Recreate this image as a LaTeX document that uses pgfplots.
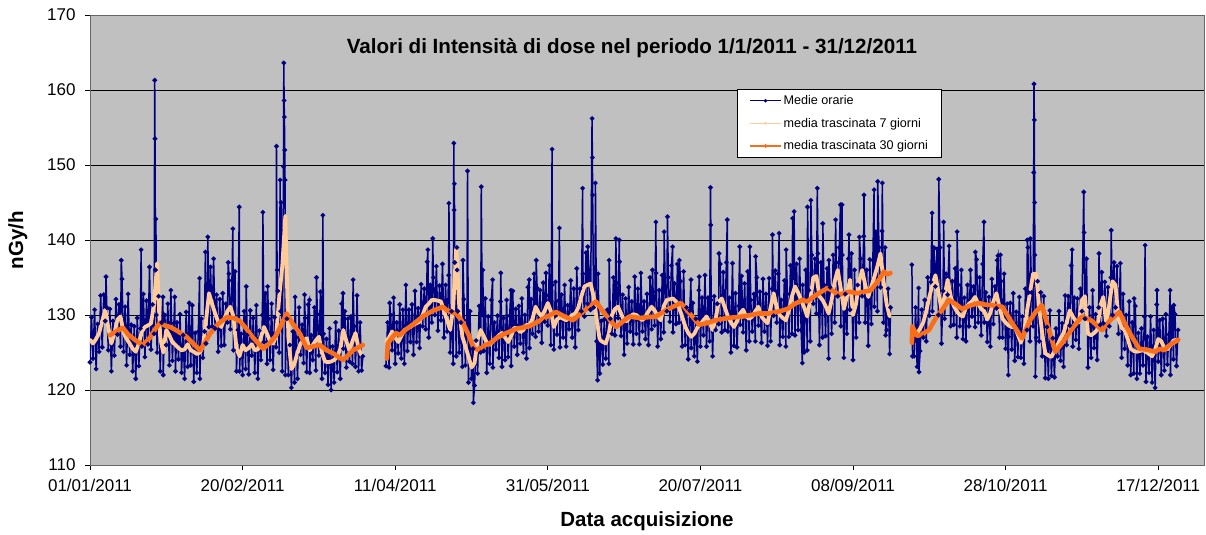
\documentclass[border=0pt]{standalone}
\usepackage{fontspec}
\setmainfont{Liberation Sans}
\usepackage{pgfplots}
\pgfplotsset{compat=1.18}
\definecolor{navy}{RGB}{0,0,128}
\definecolor{peach}{RGB}{255,204,153}
\definecolor{orng}{RGB}{250,110,25}
\definecolor{bgray}{RGB}{192,192,192}
\begin{document}
\begin{tikzpicture}
\begin{axis}[name=ax, scale only axis, width=1114pt, height=450pt,
 xmin=0, xmax=365, ymin=110, ymax=170,
 axis background/.style={fill=bgray},
 xtick={0,50,...,350},
 xticklabels={01/01/2011,20/02/2011,11/04/2011,31/05/2011,20/07/2011,08/09/2011,28/10/2011,17/12/2011},
 ytick={110,120,...,170},
 ymajorgrids, grid style={black, line width=0.8pt},
 tick align=outside, xtick pos=bottom, ytick pos=left, major tick length=5pt,
 tick style={black, line width=0.8pt},
 axis line style={black!60, line width=0.8pt},
 ticklabel style={font=\fontsize{17}{20}\selectfont},
 /pgf/number format/assume math mode=true,
 yticklabel style={xshift=-6pt},
 xticklabel style={yshift=-6pt},
 title={Valori di Intensità di dose nel periodo 1/1/2011 - 31/12/2011},
 title style={at={(axis description cs:0.4865,0.9)}, anchor=base, font=\bfseries\fontsize{20.6}{24}\selectfont},
 xlabel={Data acquisizione},
 xlabel style={at={(axis description cs:0.5,-0.1356)}, anchor=base, font=\bfseries\fontsize{20.5}{24}\selectfont},
 ylabel={nGy/h},
 ylabel style={at={(axis description cs:-0.0601,0.5)}, anchor=base, font=\bfseries\fontsize{20.5}{24}\selectfont},
 legend image code/.code={\draw[mark repeat=2,mark phase=2,#1] plot coordinates {(0pt,0pt)(15.5pt,0pt)(31pt,0pt)};},
 legend style={at={(0.5808,0.8356)}, anchor=north west, draw=black, line width=0.8pt, fill=white,
   font=\fontsize{12.6}{15}\selectfont, inner xsep=12pt, inner ysep=4pt, row sep=8pt},
 legend cell align=left,
]
\addlegendimage{navy, line width=0.8pt, mark=*, mark size=1.3pt}
\addlegendentry{Medie orarie}
\addlegendimage{peach, line width=0.8pt, mark=*, mark size=1pt}
\addlegendentry{media trascinata 7 giorni}
\addlegendimage{orng, line width=1.2pt, mark=*, mark size=1.3pt}
\addlegendentry{media trascinata 30 giorni}

% ---------------- hourly values (blue) ----------------
\addplot[forget plot, navy, line width=1.5pt, mark=*, mark size=1.5pt, mark options={solid}] table[row sep=\\] {x y\\
0 123.7\\0.5 129.7\\1 124.2\\1.5 130.7\\2 122.8\\2.5 128.8\\3 125.1\\3.5 132.6\\4 125.7\\4.5 132.7\\5 129.2\\5.25 135.1\\5.5 131\\6 125.3\\6.5 130.8\\7 122.5\\7.5 129.2\\8 124.6\\8.5 132.1\\9 127.4\\9.5 131.4\\10 125.8\\10.25 137.3\\10.5 134.8\\11 125.1\\11.5 131.1\\12 123.3\\12.5 132.8\\13 124.7\\13.5 128.7\\14 122.5\\14.5 128.5\\15 121.5\\15.5 129.6\\16 123.2\\16.5 128.2\\16.75 138.7\\17 125.8\\17.5 132.8\\18 124.4\\18.5 131.9\\19 126.1\\19.5 136.4\\20 125.4\\20.5 131.4\\21 127.5\\21.2 161.3\\21.3 153.5\\21.45 136\\21.6 142.8\\21.75 130\\22 125\\22.5 132.5\\23 122.5\\23.5 129\\23.9 132.4\\24 122\\24.5 130\\25 126\\25.5 131.5\\26 123.3\\26.5 133.3\\27 123.9\\27.5 128.9\\27.75 132.4\\28 122.5\\28.5 129\\29 124.1\\29.5 130.1\\30 122.3\\30.5 127.3\\31 121.5\\31.5 130.4\\32 123.1\\32.5 131.6\\33 123.3\\33.5 131.3\\34 121.1\\34.5 127.6\\35 122.3\\35.5 127.8\\35.9 134.9\\36 121.5\\36.5 129.5\\37 124.3\\37.5 127.8\\37.8 138.4\\38 126.2\\38.5 134.2\\38.6 140.4\\39 128.4\\39.5 136.4\\40 128.5\\40.5 137.5\\41 128.2\\41.5 132.7\\42 125.1\\42.5 132.1\\43 125.9\\43.5 132.9\\44 126\\44.5 131.5\\45 129\\45.3 137\\45.5 135.5\\46 128.1\\46.5 134.6\\46.8 141.5\\47 125.3\\47.5 135.8\\48 122.5\\48.5 128\\48.9 144.4\\49 122.5\\49.5 127.5\\50 122\\50.5 130.5\\51 122.8\\51.2 133.8\\51.5 127.3\\52 122.1\\52.5 130.6\\53 124.6\\53.5 129.6\\54 122.3\\54.5 131.3\\55 121.5\\55.5 127.9\\56 124\\56.5 130\\56.65 143.7\\57 126.4\\57.5 132.9\\58 123.5\\58.2 133.8\\58.5 129.5\\59 124\\59.5 131.5\\60 122.7\\60.5 129.7\\61 125.7\\61.1 152.5\\61.3 136\\61.5 133.2\\62 125\\62.3 148\\62.5 130.5\\62.6 145\\63 122.5\\63.4 149.8\\63.5 163.6\\63.6 158.6\\63.7 156.4\\63.8 152\\63.9 148\\64 122\\64.5 129.5\\65 122\\65.5 126\\66 120.3\\66.5 127.8\\67 121\\67.2 132.4\\67.5 127\\68 121.5\\68.5 131\\69 124.7\\69.5 128.7\\70 123.6\\70.3 132.7\\70.5 129.6\\71 122.4\\71.5 131.4\\71.9 132\\72 122.3\\72.5 127.3\\73 124\\73.5 131\\74 122.6\\74.2 135\\74.5 130.1\\75 124.6\\75.5 133.1\\76 121.5\\76.3 143.3\\76.5 127.5\\77 122.3\\77.5 126.8\\78 120.7\\78.5 128.2\\79 120\\79.5 125.8\\80 121\\80.5 129\\81 122.4\\81.5 127.9\\82 121.5\\82.5 131.5\\82.9 132.9\\83 125.5\\83.5 130.5\\84 123\\84.5 129.5\\85 123.8\\85.5 129.8\\86 123.5\\86.2 134.7\\86.5 128.5\\87 123.1\\87.5 132.6\\88 122.5\\88.5 129\\89 122.6\\89.4 124.5\\
};
\addplot[forget plot, navy, line width=1.5pt, mark=*, mark size=1.5pt, mark options={solid}] table[row sep=\\] {x y\\
97 123.2\\97.5 129\\98 123\\98.2 131.6\\98.5 130\\99 125.3\\99.5 132.3\\100 123.5\\100.5 129\\101 124.9\\101.5 131.4\\102 124.2\\102.5 130.7\\103 123.5\\103.5 134\\104 125.2\\104.5 130.7\\105 126.4\\105.5 131.4\\106 124.7\\106.5 133.2\\107 126.4\\107.5 130.9\\108 125.6\\108.5 134.1\\109 128.5\\109.5 133.5\\110 128.1\\110.5 137.1\\110.7 138.7\\111 127\\111.5 134\\112 129\\112.3 140.2\\112.5 135\\113 130\\113.5 136.5\\114 127.9\\114.5 133.9\\115 129.3\\115.5 136.8\\116 127\\116.5 134\\117 127.8\\117.5 135.3\\117.6 144.9\\118 125\\118.5 130.5\\119 123.5\\119.2 152.9\\119.3 144\\119.4 147.5\\119.5 137\\120 124.5\\120.2 139\\120.3 136\\120.5 130.5\\121 125\\121.5 129\\122 123.1\\122.2 137.3\\122.5 132.1\\123 123.3\\123.5 129.3\\123.7 149.2\\124 121\\124.5 130.5\\125 121.5\\125.5 125.5\\125.6 118.3\\126 120.6\\126.5 126.6\\127 122.2\\127.5 131.2\\128 125\\128.2 147.1\\128.5 130\\128.7 136\\129 125.2\\129.5 132.2\\130 122.3\\130.5 129.8\\131 123.5\\131.5 132\\131.9 134.7\\132 123\\132.5 129\\133 125.4\\133.5 129.9\\134 124.3\\134.5 131.8\\134.6 135.6\\135 123.1\\135.5 129.6\\136 124\\136.5 132\\137 124.4\\137.5 129.9\\137.9 133.3\\138 123.2\\138.5 133.2\\139 125.8\\139.5 130.8\\140 124.7\\140.5 131.2\\141 126.2\\141.5 132.2\\142 125\\142.5 130\\143 124.2\\143.5 133.7\\143.9 134.7\\144 125.6\\144.5 132.1\\145 127.5\\145.5 135.5\\146 127.1\\146.2 137.3\\146.5 133.6\\147 127.8\\147.5 133.3\\148 126.3\\148.5 134.3\\149 129.1\\149.4 135.6\\149.5 132.6\\150 128.6\\150.5 136.6\\151 126\\151.4 152.1\\151.5 134\\152 125.4\\152.5 134.4\\153 127.4\\153.5 131.9\\153.8 141.6\\154 125.7\\154.5 132.7\\155 127\\155.5 134\\156 125.8\\156.5 131.3\\157 128.1\\157.5 134.6\\158 127\\158.5 133.5\\159 125.7\\159.5 136.2\\160 128\\160.5 133.5\\161 130.5\\161.4 146.9\\161.5 135.5\\162 129.8\\162.5 138.3\\163 131.5\\163.1 139.1\\163.5 136\\164 130.7\\164.5 156.2\\164.6 151\\164.7 146\\165 131\\165.5 136\\165.6 147.6\\166 126.5\\166.3 121.3\\166.5 135.5\\167 122.2\\167.5 129.2\\168 123.4\\168.5 129.4\\169 124.2\\169.5 130.7\\170 123.5\\170.1 137.3\\170.5 129.5\\171 127.5\\171.5 135\\172 127.3\\172.3 140.2\\172.5 134.3\\173 129.6\\173.4 140\\173.5 137.1\\174 127.2\\174.5 132.7\\175 124.7\\175.5 132.2\\176 126.2\\176.5 133.7\\177 127.8\\177.5 131.8\\178 126.1\\178.5 135.1\\179 127.5\\179.5 133.5\\180 126.1\\180.5 135.6\\181 127.8\\181.5 131.8\\182 126.8\\182.5 132.8\\183 126\\183.5 135\\184 128.1\\184.3 136\\184.5 133.1\\185 128.6\\185.4 142.4\\185.5 135.6\\186 125.8\\186.5 133.3\\187 126.8\\187.5 135.3\\188 127.7\\188.1 141.1\\188.5 133.7\\189 130.5\\189.2 143.1\\189.5 135\\190 129.1\\190.5 136.6\\190.9 139.1\\191 127.7\\191.5 134.2\\192 128.8\\192.5 136.8\\193 129\\193.1 137.3\\193.5 134.5\\194 125.8\\194.5 135.8\\195 126\\195.5 131\\196 124.1\\196.5 130.6\\196.9 134.7\\197 125.6\\197.5 131.6\\198 124.5\\198.5 129.5\\199 123.8\\199.5 133.3\\199.6 135.1\\200 125.8\\200.5 132.3\\201 127.3\\201.5 135.3\\202 125.8\\202.5 132.3\\203 126.5\\203.3 147\\203.4 142\\203.5 132\\204 124.5\\204.5 132.5\\205 128\\205.5 131.5\\206 128.8\\206.1 138.2\\206.5 136.8\\207 127.7\\207.5 135.7\\208 128\\208.5 137\\208.8 142.7\\209 127.8\\209.5 132.3\\210 125\\210.5 136.9\\211 125.9\\211.5 132.9\\212 125.7\\212.5 131.2\\212.9 139.1\\213 128.7\\213.5 135.2\\214 127.7\\214.5 134.2\\215 125.3\\215.5 135.8\\216 126.5\\216.2 139.1\\216.5 132\\217 127.8\\217.5 132.8\\218 126.5\\218.1 137.8\\218.5 135\\219 128.6\\219.5 133.1\\220 126.3\\220.5 134.8\\221 127.8\\221.5 132.8\\222 125.9\\222.5 134.9\\223 126.5\\223.5 133.5\\223.6 140.7\\224 129.9\\224.5 135.9\\225 129\\225.5 135.5\\225.8 140.9\\226 126\\226.5 132\\227 127.1\\227.5 134.6\\228 125.8\\228.1 138.7\\228.5 132.8\\229 127.1\\229.5 136.6\\230 127.5\\230.2 142.9\\230.5 135\\230.7 143.8\\231 127.3\\231.5 136.8\\232 128\\232.5 137.5\\233 128\\233.4 123.6\\233.5 134\\234 125\\234.5 136\\235 125.3\\235.1 144.4\\235.5 133.3\\236 126.5\\236.2 145.3\\236.5 138\\237 131.5\\237.5 137.5\\238 130.2\\238.3 146.9\\238.5 138.2\\239 126\\239.5 137\\240 127\\240.1 142.2\\240.5 134\\241 127.2\\241.5 136.2\\242 124.2\\242.1 137.3\\242.5 133.7\\243 127.5\\243.5 138\\244 129\\244.3 142.7\\244.5 137\\245 132.5\\245.5 139\\245.9 144.7\\246 128.5\\246.4 144.7\\246.5 138\\247 124.3\\247.5 132.8\\248 127.5\\248.5 137.5\\248.7 140.7\\249 130.7\\249.5 138.2\\250 124\\250.5 136\\251 127\\251.5 134\\252 129\\252.1 140.4\\252.5 137.5\\253 132.5\\253.5 140.5\\253.6 146\\254 129\\254.5 136\\255 125.9\\255.5 137.4\\256 128.8\\256.5 137.3\\256.9 146.7\\257 131.1\\257.5 141.1\\258 130.5\\258.1 147.8\\258.5 139\\259 133.7\\259.5 141.2\\259.6 147.6\\260 129\\260.5 139\\260.7 127.3\\261 128\\261.5 133.5\\262 124.8\\262.3 131\\
};
\addplot[forget plot, navy, line width=1.5pt, mark=*, mark size=1.5pt, mark options={solid}] table[row sep=\\] {x y\\
269.3 136.7\\269.5 124.5\\270 124.5\\270.5 131\\271 123.1\\271.5 133.6\\271.6 122.4\\272 125.2\\272.5 130.7\\273 127\\273.5 132\\274 126.5\\274.5 135\\275 129.9\\275.5 134.4\\275.9 143.6\\276 130.5\\276.5 139\\277 133.8\\277.5 138.8\\278 130\\278.1 148.1\\278.5 139\\279 126.2\\279.5 133.2\\279.7 142.4\\280 129.5\\280.5 135.5\\281 132.7\\281.5 139.2\\282 128.5\\282.5 134.5\\283 128.7\\283.5 136.2\\284 127\\284.1 141.1\\284.5 134\\285 128.5\\285.5 136\\286 126.8\\286.5 132.3\\287 126.5\\287.5 134\\288 128.5\\288.5 136\\289 129.8\\289.5 133.8\\290 128.4\\290.1 138.4\\290.5 137.4\\291 129\\291.5 135\\292 127.3\\292.5 136.8\\292.9 142.4\\293 129\\293.5 133\\294 126.4\\294.5 132.4\\295 125.8\\295.5 134.8\\296 128.8\\296.5 133.8\\297 130.9\\297.2 137.3\\297.5 137.9\\298 127\\298.3 138\\298.5 134.5\\299 127\\299.5 135.5\\300 125.5\\300.5 131.5\\300.9 122\\301 127.1\\301.5 131.6\\302 125.4\\302.5 132.9\\303 123.9\\303.5 130.4\\304 124.4\\304.5 132.4\\305 124.3\\305.5 129.8\\306 123.5\\306.5 133.5\\307 128\\307.1 140\\307.3 139\\307.5 133\\308 126.5\\308.1 140.2\\308.5 133\\309 128.5\\309.2 149\\309.3 160.8\\309.4 156\\309.5 145\\309.6 138\\309.75 121.8\\310 127\\310.5 134.5\\311 126.5\\311.5 133\\312 124.5\\312.5 132.5\\313 121.6\\313.5 128.4\\314 121.5\\314.5 130.6\\315 121.9\\315.5 126.9\\316 121.7\\316.5 128.2\\317 124.5\\317.5 130.5\\318 123.9\\318.5 128.9\\319 123.1\\319.5 132.6\\320 126\\320.5 132.5\\321 128.6\\321.5 136.6\\321.8 138.7\\322 125.8\\322.5 132.3\\323 126.7\\323.5 132.2\\324 125.5\\324.5 133.5\\325 130.5\\325.6 146.4\\325.7 141\\326 129.5\\326.5 137.5\\327 123\\327.5 131\\328 124.3\\328.5 133.3\\329 125.6\\329.5 130.1\\330 124\\330.5 131\\330.6 138.2\\331 128.7\\331.5 135.7\\332 128.9\\332.5 134.4\\333 127.2\\333.5 133.7\\334 128.5\\334.5 135\\334.6 141.3\\335 130\\335.5 137\\336 131\\336.5 136.5\\337 127.5\\337.6 136.9\\338 124.3\\338.5 132.8\\339 125.5\\339.5 130\\340 123.3\\340.5 131.8\\341 122\\341.5 129\\342 122.2\\342.1 132.2\\342.5 131.2\\343 121.5\\343.5 127.6\\344 122.2\\344.5 128.2\\345 123.3\\345.5 129.8\\345.7 139.3\\346 121.1\\346.5 127.1\\347 122.3\\347.5 129.8\\348 121\\348.5 128\\349 120.3\\349.5 131.4\\349.6 133.3\\350 123.8\\350.5 129.3\\351 122\\351.5 129.5\\352 122.6\\352.5 130.1\\353 123.4\\353.5 127.4\\353.9 133.3\\354 122\\354.5 131\\355 124.1\\355.1 131.3\\355.5 130.1\\356 123.2\\356.5 128\\
};

% ---------------- 7-day moving average (peach) ----------------
\addplot[forget plot, peach, line width=3.8pt, line join=round, line cap=round] table[row sep=\\] {x y\\
0 126.7\\1 126.2\\2 126.8\\3 127.6\\4 129.2\\5 130.7\\6 128.3\\7 126.2\\8 127.6\\9 129.4\\10 129.8\\11 127.6\\12 126.8\\13 126.2\\14 125.5\\15 125.1\\16 126.2\\17 127.8\\18 128.4\\19 128.6\\20 128.9\\21 131.5\\22 136.9\\23 127\\24 125\\25 128\\26 127.3\\27 126.4\\28 126\\29 125.6\\30 125.3\\31 125.4\\32 126.1\\33 125.3\\34 125.1\\35 124.8\\36 125\\37 125.8\\38 129.2\\39 132.9\\40 131.5\\41 130.2\\42 129.1\\43 128.4\\44 129.5\\45 130.5\\46 131.1\\47 129.8\\48 125.5\\49 124.5\\50 126\\51 125.3\\52 125.6\\53 126.1\\54 125.3\\55 125.4\\56 127\\57 128.4\\58 127.5\\59 126.5\\60 126.2\\61 127.2\\62 132.4\\63 136.5\\64 143.2\\65 127\\66 122.8\\67 123.5\\68 125\\69 126.2\\70 126.6\\71 126.9\\72 125.3\\73 126\\74 126.6\\75 127.1\\76 125\\77 123.8\\78 123.7\\79 123.8\\80 124\\81 124.4\\82 125.5\\83 128\\84 126.5\\85 125.3\\86 126.5\\87 127.6\\88 125.5\\89 124.6\\
};
\addplot[forget plot, peach, line width=3.8pt, line join=round, line cap=round] table[row sep=\\] {x y\\
97 126.5\\98 127\\99 127.8\\100 127\\101 126.4\\102 127.2\\103 128\\104 128.2\\105 128.4\\106 128.7\\107 128.9\\108 129.1\\109 130\\110 131.1\\111 131.5\\112 132\\113 132\\114 131.9\\115 131.8\\116 130.5\\117 129.3\\118 128\\119 131\\120 139\\121 131\\122 127.1\\123 125.8\\124 124.5\\125 123\\126 123.6\\127 126.7\\128 128\\129 127.2\\130 126.3\\131 126\\132 126.5\\133 126.9\\134 127.3\\135 127.6\\136 127\\137 126.4\\138 127.2\\139 128.3\\140 128.2\\141 127.7\\142 128\\143 128.7\\144 128.6\\145 129.5\\146 131.1\\147 130.3\\148 129.8\\149 130.6\\150 131.6\\151 130.5\\152 128.4\\153 129.4\\154 129.7\\155 129.5\\156 129.3\\157 129.6\\158 130\\159 130.2\\160 131\\161 132.5\\162 133.8\\163 134\\164 134.2\\165 132.5\\166 129.5\\167 126.7\\168 126.4\\169 126.2\\170 127.5\\171 130\\172 130.8\\173 131.1\\174 130.2\\175 129.2\\176 129.2\\177 129.8\\178 130.1\\179 130\\180 129.6\\181 129.3\\182 129.8\\183 130.5\\184 131.1\\185 130.6\\186 129.8\\187 129.3\\188 131.2\\189 132\\190 132.1\\191 132.2\\192 131.8\\193 131\\194 129.8\\195 128.5\\196 127.6\\197 127.1\\198 127.5\\199 128.3\\200 128.8\\201 129.3\\202 129.8\\203 129\\204 128\\205 129.5\\206 131.8\\207 132.2\\208 131\\209 129.8\\210 129\\211 128.4\\212 129.2\\213 130.2\\214 130.7\\215 129.8\\216 129.5\\217 129.8\\218 130.5\\219 131.1\\220 129.8\\221 129.3\\222 128.9\\223 131\\224 132.9\\225 131\\226 130\\227 129.6\\228 129.3\\229 130.6\\230 132.5\\231 133.8\\232 133\\233 132\\234 131\\235 129.8\\236 132\\237 135\\238 135.2\\239 132.5\\240 132\\241 131.2\\242 130.2\\243 132\\244 134.5\\245 136\\246 133.5\\247 130.8\\248 132.5\\249 134.7\\250 130\\251 131.5\\252 134.5\\253 136\\254 134\\255 132.4\\256 133.8\\257 135.1\\258 136.5\\259 138.2\\260 134.5\\261 131.5\\262 129.8\\
};
\addplot[forget plot, peach, line width=3.8pt, line join=round, line cap=round] table[row sep=\\] {x y\\
269 127.1\\270 127.5\\271 127.6\\272 128.2\\273 129\\274 130.5\\275 132.4\\276 134\\277 135.3\\278 133\\279 130.7\\280 132.5\\281 134.7\\282 132.5\\283 131.2\\284 130.5\\285 130\\286 129.8\\287 131\\288 131.5\\289 131.8\\290 132.4\\291 131.5\\292 130.8\\293 130.5\\294 129.4\\295 130.3\\296 131.8\\297 132.9\\298 131\\299 129.5\\300 129\\301 128.6\\302 128.4\\303 128.4\\304 127.4\\305 126.3\\306 127.5\\307 130.5\\308 133\\309 135.5\\310 135.5\\311 131\\312 127.5\\313 124.9\\314 124.6\\315 124.4\\316 125.2\\317 126\\318 126.9\\319 127.6\\320 129\\321 130.6\\322 129.8\\323 129.2\\324 129\\325 132\\326 132.5\\327 127.5\\328 127.3\\329 127.6\\330 128\\331 131.2\\332 132.4\\333 128.7\\334 131.5\\335 134.5\\336 134\\337 129.5\\338 128.3\\339 128\\340 126.8\\341 125.5\\342 125.2\\343 125.1\\344 125.2\\345 125.3\\346 125.1\\347 124.8\\348 124.5\\349 125.4\\350 126.8\\351 126.5\\352 125.6\\353 125.4\\354 126\\355 126.6\\356 126.7\\
};

% ---------------- 30-day moving average (orange) ----------------
\addplot[forget plot, orng, line width=4.6pt, line join=round, line cap=round] coordinates {
(6.5,127.3)(8.5,127.8)(10.8,128.3)(12.5,127.4)(15,126.6)(17.3,126)(19.5,126.9)(21.5,128.2)(23,129)(24.5,128.6)(26.3,128.4)(28.5,127.9)(31.6,127.1)(34,126.1)(36,125.3)(37.5,126.2)(39.3,127.5)(42,128.8)(44.8,129.7)(47,129.6)(49.1,129.2)(51,128.3)(53.4,127)(56.7,125.5)(59,126.3)(61,127.3)(62.8,128.8)(64.4,130.2)(66.5,128.8)(68.8,127.5)(71,125.6)(73,125.8)(75.3,126)(77.5,125.3)(79.6,124.9)(82.9,124)(84.5,124.6)(86.2,125.3)(88,125.7)(89.4,126)
};
\addplot[forget plot, orng, line width=4.6pt, line join=round, line cap=round] coordinates {
(97.3,124.2)(97.6,126.2)(99,127)(100.3,127.6)(101.5,127.3)(103,127.9)(106,128.8)(109,129.8)(112,130.5)(115.6,131.1)(117,130.6)(118.5,130.4)(120,130.2)(122,129.1)(124,127.4)(125.7,125.6)(127.6,125.3)(129,125.9)(130.9,126.2)(133.5,127)(136.4,127.6)(140,128.2)(144,128.5)(148,129.4)(152.7,130.4)(155.5,129.8)(158.2,129.3)(162,130.6)(165.8,131.8)(168,130.5)(170,129.5)(172.4,128.4)(174.5,129.1)(176.7,129.8)(180,129.6)(185.4,129.8)(189,130.7)(193.6,131.6)(196.5,130.2)(199.6,128.7)(202,128.9)(205,129.3)(209,129.6)(213.8,129.8)(219.2,130.2)(222.5,130.2)(226,130.5)(228.5,130.8)(231,131.5)(233.4,132)(235,131.8)(238,132.7)(241.6,133.6)(243.5,133.2)(245.4,132.7)(248.7,133.1)(251.5,132.9)(255.8,133.3)(258.5,134.7)(260.2,135.8)(261.2,135.4)(262.3,135.6)
};
\addplot[forget plot, orng, line width=4.6pt, line join=round, line cap=round] coordinates {
(269.3,126.3)(269.4,128.5)(271,127.2)(272.5,127.4)(274.9,128)(277,129.5)(279.2,130.7)(281.4,132)(283.5,131.5)(285.8,130.8)(288,131.2)(291.2,131.6)(293,131.4)(295.5,131.3)(298.9,131.1)(302,129)(305.4,126.9)(308,129.3)(310,130.5)(311.9,131.3)(313.5,129)(316.3,125.1)(319,126.5)(322,128.3)(325,129.8)(328,129.3)(331.6,128)(334.5,129.4)(337.3,130.4)(339.5,128.5)(341.5,127)(343.8,125.5)(346,125.4)(349,125.1)(350.5,125.5)(352,125.3)(353.4,125.9)(355,126.3)(356.6,126.7)
};
\end{axis}
\pgfresetboundingbox
\path[use as bounding box] ([shift={(-90pt,-70pt)}]ax.south west) rectangle ([shift={(2pt,15pt)}]ax.north east);
\end{tikzpicture}
\end{document}
